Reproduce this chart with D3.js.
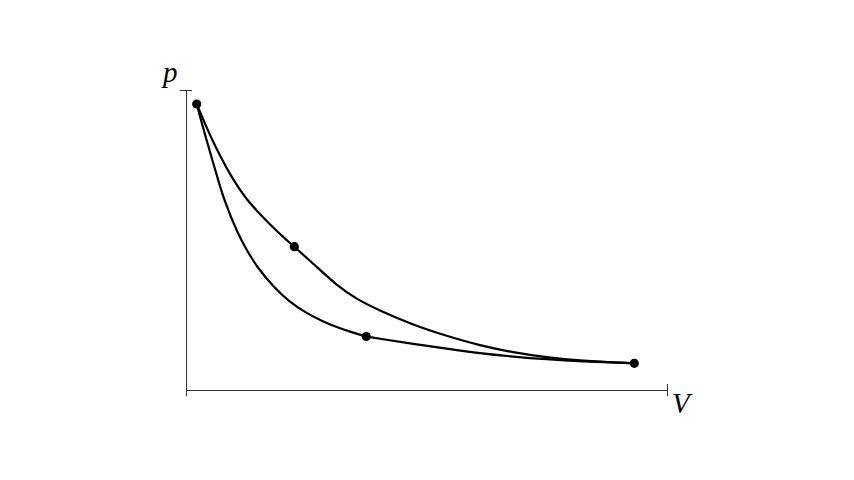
<!DOCTYPE html>
<html>
<head>
<meta charset="utf-8">
<script src="https://cdn.jsdelivr.net/npm/d3@7"></script>
<style>
html,body{margin:0;padding:0;background:#fff;}
svg{display:block;}
</style>
</head>
<body>
<svg id="chart" width="854" height="480"></svg>
<script>
// Upper curve (A -> B -> D): [V, p]
const upperCurve = [
  [0.222, 9.533], [0.420, 8.777], [0.578, 8.223], [0.753, 7.667],
  [0.946, 7.110], [1.123, 6.667], [1.274, 6.333], [1.455, 6.007],
  [1.663, 5.657], [1.871, 5.323], [2.094, 4.993], [2.252, 4.777],
  [2.682, 4.157], [3.133, 3.490], [3.549, 3.023], [4.033, 2.643],
  [4.726, 2.167], [5.420, 1.800], [6.112, 1.483], [6.805, 1.250],
  [7.499, 1.083], [8.191, 0.977], [9.320, 0.890]
];
// Lower curve, first part (A -> C)
const lowerCurve1 = [
  [0.222, 9.533], [0.349, 8.777], [0.447, 8.223], [0.547, 7.667],
  [0.649, 7.110], [0.790, 6.333], [1.071, 5.223], [1.262, 4.667],
  [1.470, 4.110], [1.815, 3.443], [2.162, 2.917], [2.509, 2.557],
  [2.854, 2.277], [3.202, 2.057], [3.478, 1.910], [3.748, 1.783]
];
// Lower curve, second part (C -> D)
const lowerCurve2 = [
  [3.748, 1.783], [4.033, 1.710], [4.726, 1.533], [5.420, 1.377],
  [6.112, 1.223], [6.805, 1.110], [7.499, 1.023], [8.191, 0.957],
  [9.320, 0.890]
];
// State points A, B, C, D
const statePoints = [
  [0.222, 9.533], [2.252, 4.777], [3.748, 1.783], [9.320, 0.890]
];
const xTicks = [0, 10];
const yTicks = [10];
const xLabel = "V";
const yLabel = "p";

const svg = d3.select("#chart");
const x = d3.scaleLinear().domain([0, 10]).range([186, 667]);
const y = d3.scaleLinear().domain([0, 10]).range([390, 90]);

// axes
const xAxis = svg.append("g").attr("transform", `translate(0,${y(0)})`)
  .call(d3.axisBottom(x).tickValues(xTicks).tickSize(6).tickSizeOuter(0).tickFormat(""));
xAxis.selectAll(".tick line").attr("y1", -6).attr("y2", 6);
const yAxis = svg.append("g").attr("transform", `translate(${x(0)},0)`)
  .call(d3.axisLeft(y).tickValues(yTicks).tickSize(6).tickSizeOuter(0).tickFormat(""));
yAxis.selectAll(".tick line").attr("x1", -6).attr("x2", 6);
svg.selectAll(".domain, .tick line").attr("stroke", "#333").attr("stroke-width", 1);

// curves
const line = d3.line().x(d => x(d[0])).y(d => y(d[1])).curve(d3.curveBasis);
[upperCurve, lowerCurve1, lowerCurve2].forEach(c => {
  svg.append("path").datum(c).attr("d", line)
    .attr("fill", "none").attr("stroke", "#000").attr("stroke-width", 2.2)
    .attr("stroke-linejoin", "round");
});

// points
svg.selectAll("circle.pt").data(statePoints).enter().append("circle")
  .attr("class", "pt").attr("cx", d => x(d[0])).attr("cy", d => y(d[1]))
  .attr("r", 4.6).attr("fill", "#000");

// labels
svg.append("text").attr("x", 672).attr("y", 413)
  .attr("font-family", "'Liberation Serif', serif").attr("font-style", "italic")
  .attr("font-size", 29).attr("fill", "#000").text(xLabel);
svg.append("text").attr("x", 163).attr("y", 82)
  .attr("font-family", "'Liberation Serif', serif").attr("font-style", "italic")
  .attr("font-size", 29).attr("fill", "#000").text(yLabel);
</script>
</body>
</html>
